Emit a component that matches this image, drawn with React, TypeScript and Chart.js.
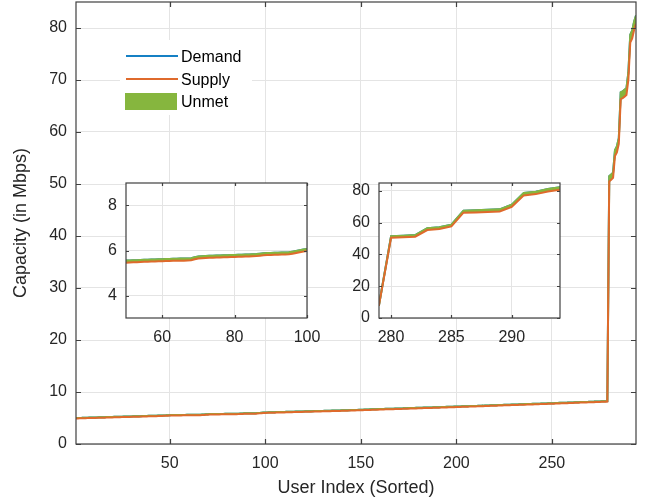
import { useEffect, useRef } from "react";
import { Chart, registerables } from "chart.js";

Chart.register(...registerables);

// ---- Data ----
const demand: number[] = [
  5.00, 5.01, 5.02, 5.03, 5.05, 5.06, 5.07, 5.08, 5.09, 5.10,
  5.11, 5.12, 5.13, 5.14, 5.15, 5.16, 5.18, 5.19, 5.20, 5.21,
  5.22, 5.23, 5.24, 5.25, 5.26, 5.27, 5.28, 5.29, 5.30, 5.31,
  5.32, 5.33, 5.34, 5.35, 5.36, 5.37, 5.38, 5.40, 5.41, 5.42,
  5.43, 5.44, 5.45, 5.46, 5.47, 5.48, 5.50, 5.51, 5.53, 5.55,
  5.56, 5.57, 5.57, 5.58, 5.59, 5.59, 5.60, 5.60, 5.61, 5.61,
  5.62, 5.62, 5.63, 5.63, 5.64, 5.64, 5.65, 5.66, 5.70, 5.73,
  5.75, 5.76, 5.77, 5.77, 5.78, 5.78, 5.79, 5.79, 5.80, 5.80,
  5.81, 5.81, 5.82, 5.82, 5.83, 5.84, 5.86, 5.88, 5.89, 5.89,
  5.90, 5.90, 5.91, 5.91, 5.92, 5.95, 5.98, 6.01, 6.04, 6.07,
  6.08, 6.09, 6.10, 6.11, 6.12, 6.13, 6.14, 6.15, 6.16, 6.17,
  6.18, 6.19, 6.20, 6.21, 6.22, 6.23, 6.24, 6.25, 6.26, 6.27,
  6.28, 6.29, 6.30, 6.31, 6.32, 6.33, 6.34, 6.35, 6.36, 6.37,
  6.38, 6.39, 6.40, 6.41, 6.42, 6.43, 6.44, 6.45, 6.46, 6.47,
  6.48, 6.49, 6.50, 6.51, 6.52, 6.53, 6.54, 6.56, 6.58, 6.60,
  6.61, 6.62, 6.63, 6.65, 6.66, 6.67, 6.68, 6.70, 6.71, 6.72,
  6.73, 6.74, 6.76, 6.77, 6.78, 6.79, 6.80, 6.82, 6.83, 6.84,
  6.85, 6.86, 6.88, 6.89, 6.90, 6.91, 6.92, 6.94, 6.95, 6.96,
  6.97, 6.98, 7.00, 7.01, 7.02, 7.03, 7.04, 7.06, 7.07, 7.08,
  7.09, 7.10, 7.12, 7.13, 7.14, 7.15, 7.16, 7.18, 7.19, 7.20,
  7.21, 7.23, 7.24, 7.25, 7.27, 7.28, 7.29, 7.31, 7.32, 7.33,
  7.34, 7.36, 7.37, 7.38, 7.40, 7.41, 7.42, 7.44, 7.45, 7.46,
  7.47, 7.49, 7.50, 7.51, 7.53, 7.54, 7.55, 7.57, 7.58, 7.59,
  7.60, 7.62, 7.63, 7.64, 7.66, 7.67, 7.68, 7.70, 7.71, 7.72,
  7.73, 7.75, 7.76, 7.77, 7.79, 7.80, 7.81, 7.83, 7.84, 7.85,
  7.86, 7.88, 7.89, 7.91, 7.92, 7.94, 7.95, 7.96, 7.98, 7.99,
  8.00, 8.02, 8.03, 8.05, 8.06, 8.07, 8.09, 8.10, 8.11, 8.13,
  8.14, 8.15, 8.17, 8.18, 8.19, 8.21, 8.22, 8.23, 8.25,
  51.5, 51.8, 52.2, 56.5, 57.2, 58.8, 67.6, 67.8, 68.1, 68.4,
  71.4, 78.7, 79.5, 81.2, 82.4,
];

const supply: number[] = [
  4.91, 4.92, 4.93, 4.94, 4.96, 4.97, 4.98, 4.99, 5.00, 5.01,
  5.02, 5.03, 5.04, 5.05, 5.06, 5.07, 5.09, 5.10, 5.11, 5.12,
  5.13, 5.14, 5.15, 5.16, 5.17, 5.18, 5.19, 5.20, 5.21, 5.22,
  5.23, 5.24, 5.25, 5.26, 5.27, 5.28, 5.29, 5.31, 5.32, 5.33,
  5.34, 5.35, 5.36, 5.37, 5.38, 5.39, 5.41, 5.42, 5.44, 5.46,
  5.47, 5.48, 5.48, 5.49, 5.50, 5.50, 5.51, 5.51, 5.52, 5.52,
  5.53, 5.53, 5.54, 5.54, 5.55, 5.55, 5.56, 5.57, 5.61, 5.64,
  5.66, 5.67, 5.68, 5.68, 5.69, 5.69, 5.70, 5.70, 5.71, 5.71,
  5.72, 5.72, 5.73, 5.73, 5.74, 5.75, 5.77, 5.79, 5.80, 5.80,
  5.81, 5.81, 5.82, 5.82, 5.83, 5.86, 5.89, 5.92, 5.95, 5.98,
  5.99, 6.00, 6.01, 6.02, 6.03, 6.04, 6.05, 6.06, 6.07, 6.08,
  6.09, 6.10, 6.11, 6.12, 6.13, 6.14, 6.15, 6.16, 6.17, 6.18,
  6.19, 6.20, 6.21, 6.22, 6.23, 6.24, 6.25, 6.26, 6.27, 6.28,
  6.29, 6.30, 6.31, 6.32, 6.33, 6.34, 6.35, 6.36, 6.37, 6.38,
  6.39, 6.40, 6.41, 6.42, 6.43, 6.44, 6.45, 6.47, 6.49, 6.51,
  6.51, 6.52, 6.53, 6.55, 6.56, 6.57, 6.58, 6.60, 6.61, 6.62,
  6.63, 6.64, 6.66, 6.67, 6.68, 6.69, 6.70, 6.72, 6.73, 6.74,
  6.75, 6.76, 6.78, 6.79, 6.80, 6.81, 6.82, 6.84, 6.85, 6.86,
  6.87, 6.88, 6.90, 6.91, 6.92, 6.93, 6.94, 6.96, 6.97, 6.98,
  6.99, 7.00, 7.02, 7.03, 7.04, 7.05, 7.06, 7.08, 7.09, 7.10,
  7.11, 7.13, 7.14, 7.15, 7.17, 7.18, 7.19, 7.21, 7.22, 7.23,
  7.24, 7.26, 7.27, 7.28, 7.30, 7.31, 7.32, 7.34, 7.35, 7.36,
  7.37, 7.39, 7.40, 7.41, 7.43, 7.44, 7.45, 7.47, 7.48, 7.49,
  7.50, 7.52, 7.53, 7.54, 7.56, 7.57, 7.58, 7.60, 7.61, 7.62,
  7.63, 7.65, 7.66, 7.67, 7.69, 7.70, 7.71, 7.73, 7.74, 7.75,
  7.76, 7.78, 7.79, 7.81, 7.82, 7.84, 7.85, 7.86, 7.88, 7.89,
  7.90, 7.92, 7.93, 7.95, 7.96, 7.97, 7.99, 8.00, 8.01, 8.03,
  8.04, 8.05, 8.07, 8.08, 8.09, 8.11, 8.12, 8.13, 8.15,
  50.5, 50.8, 51.2, 55.4, 56.1, 57.7, 66.3, 66.5, 66.8, 67.1,
  70.0, 77.2, 78.0, 79.6, 80.8,
];

// User index (sorted) 1..294 — the x category of each user
const userIndex: number[] = demand.map((_, i) => i + 1);

const seriesLabels = ["Demand", "Supply", "Unmet"];

const mainXTicks = [50, 100, 150, 200, 250];
const mainYTicks = [0, 10, 20, 30, 40, 50, 60, 70, 80];
const inset1XTicks = [60, 80, 100];
const inset1YTicks = [4, 6, 8];
const inset2XTicks = [280, 285, 290];
const inset2YTicks = [0, 20, 40, 60, 80];

const xTitle = "User Index (Sorted)";
const yTitle = "Capacity (in Mbps)";

// ---- Styles ----
const FONT = "'Liberation Sans', Arial, Helvetica, sans-serif";
const TEXT = "#262626";
const AXIS = "#404040";
const GRID = "#e4e4e4";
const BLUE = "#1580c4";
const ORANGE = "#df6a2c";
const GREEN = "#86b63e";

const toPoints = (arr: number[]) => arr.map((v, i) => ({ x: userIndex[i], y: v }));

const boxTicksPlugin = {
  id: "boxTicks",
  afterDraw(chart: any, _args: any, opts: any) {
    const { ctx, chartArea: a, scales } = chart;
    const x = scales.x;
    const y = scales.y;
    const L = opts.len ?? 5;
    ctx.save();
    ctx.strokeStyle = AXIS;
    ctx.lineWidth = 1.2;
    ctx.beginPath();
    (opts.xTicks as number[]).forEach((v) => {
      const px = Math.round(x.getPixelForValue(v)) + 0.5;
      ctx.moveTo(px, a.bottom);
      ctx.lineTo(px, a.bottom - L);
      ctx.moveTo(px, a.top);
      ctx.lineTo(px, a.top + L);
    });
    (opts.yTicks as number[]).forEach((v) => {
      const py = Math.round(y.getPixelForValue(v)) + 0.5;
      ctx.moveTo(a.left, py);
      ctx.lineTo(a.left + L, py);
      ctx.moveTo(a.right, py);
      ctx.lineTo(a.right - L, py);
    });
    ctx.stroke();
    ctx.strokeRect(a.left, a.top, a.right - a.left, a.bottom - a.top);
    ctx.restore();
  },
};

const whiteAreaPlugin = {
  id: "whiteArea",
  beforeDraw(chart: any) {
    const { ctx, chartArea: a } = chart;
    ctx.save();
    ctx.fillStyle = "#ffffff";
    ctx.fillRect(a.left, a.top, a.right - a.left, a.bottom - a.top);
    ctx.restore();
  },
};

const legendPlugin = {
  id: "matlabLegend",
  afterDraw(chart: any) {
    const { ctx, chartArea: a } = chart;
    const x0 = a.left + 44;
    const y0 = a.top + 38;
    ctx.save();
    ctx.fillStyle = "#ffffff";
    ctx.fillRect(x0, y0, 132, 75);
    ctx.lineWidth = 2;
    ctx.strokeStyle = BLUE;
    ctx.beginPath();
    ctx.moveTo(x0 + 6, y0 + 16);
    ctx.lineTo(x0 + 58, y0 + 16);
    ctx.stroke();
    ctx.strokeStyle = ORANGE;
    ctx.beginPath();
    ctx.moveTo(x0 + 6, y0 + 39);
    ctx.lineTo(x0 + 58, y0 + 39);
    ctx.stroke();
    ctx.fillStyle = GREEN;
    ctx.fillRect(x0 + 5, y0 + 53, 52, 17);
    ctx.fillStyle = "#000000";
    ctx.font = `16px ${FONT}`;
    ctx.textBaseline = "alphabetic";
    ctx.textAlign = "left";
    ctx.fillText(seriesLabels[0], x0 + 61, y0 + 22);
    ctx.fillText(seriesLabels[1], x0 + 61, y0 + 45);
    ctx.fillText(seriesLabels[2], x0 + 61, y0 + 67);
    ctx.restore();
  },
};

type Cfg = {
  xMin: number; xMax: number; yMin: number; yMax: number;
  xTicks: number[]; yTicks: number[];
  pad: { left: number; right: number; top: number; bottom: number };
  yWidth: number; xHeight: number; tickLen: number;
  titles: boolean; legend: boolean; white: boolean;
};

function makeConfig(c: Cfg): any {
  const tickFont = { family: FONT, size: 16 };
  const plugins: any[] = [boxTicksPlugin];
  if (c.white) plugins.push(whiteAreaPlugin);
  if (c.legend) plugins.push(legendPlugin);
  return {
    type: "line",
    data: {
      datasets: [
        {
          label: seriesLabels[0],
          data: toPoints(demand),
          borderColor: BLUE,
          borderWidth: 2,
          pointRadius: 0,
          tension: 0,
          fill: false,
          order: 3,
        },
        {
          label: seriesLabels[1],
          data: toPoints(supply),
          borderColor: ORANGE,
          borderWidth: 2,
          pointRadius: 0,
          tension: 0,
          fill: false,
          order: 1,
        },
        {
          label: seriesLabels[2],
          data: toPoints(demand),
          borderColor: GREEN,
          backgroundColor: GREEN,
          borderWidth: 2,
          pointRadius: 0,
          tension: 0,
          fill: 1,
          order: 2,
        },
      ],
    },
    options: {
      animation: false,
      responsive: false,
      maintainAspectRatio: false,
      events: [],
      layout: { padding: c.pad },
      plugins: {
        legend: { display: false },
        tooltip: { enabled: false },
        title: { display: false },
        boxTicks: { xTicks: c.xTicks, yTicks: c.yTicks, len: c.tickLen },
      },
      scales: {
        x: {
          type: "linear",
          min: c.xMin,
          max: c.xMax,
          afterBuildTicks: (s: any) => {
            s.ticks = c.xTicks.map((v) => ({ value: v }));
          },
          afterFit: (s: any) => {
            s.height = c.xHeight;
            s.paddingLeft = 0;
            s.paddingRight = 0;
            s.paddingTop = 0;
            s.paddingBottom = 0;
          },
          grid: { color: GRID, lineWidth: 1, drawTicks: false },
          border: { display: false },
          ticks: { font: tickFont, color: TEXT, padding: 10, maxRotation: 0, autoSkip: false },
          title: {
            display: c.titles,
            text: xTitle,
            color: TEXT,
            font: { family: FONT, size: 18 },
            padding: { top: 0, bottom: 5 },
          },
        },
        y: {
          type: "linear",
          min: c.yMin,
          max: c.yMax,
          afterBuildTicks: (s: any) => {
            s.ticks = c.yTicks.map((v) => ({ value: v }));
          },
          afterFit: (s: any) => {
            s.width = c.yWidth;
            s.paddingLeft = 0;
            s.paddingRight = 0;
            s.paddingTop = 0;
            s.paddingBottom = 0;
          },
          grid: { color: GRID, lineWidth: 1, drawTicks: false },
          border: { display: false },
          ticks: { font: tickFont, color: TEXT, padding: 9, autoSkip: false },
          title: {
            display: c.titles,
            text: yTitle,
            color: TEXT,
            font: { family: FONT, size: 18 },
            padding: { top: 10, bottom: 0 },
          },
        },
      },
    },
    plugins,
  };
}

function ChartCanvas(props: { cfg: Cfg; left: number; top: number; width: number; height: number }) {
  const ref = useRef<HTMLCanvasElement | null>(null);
  useEffect(() => {
    if (!ref.current) return;
    const chart = new Chart(ref.current, makeConfig(props.cfg));
    return () => chart.destroy();
  }, []);
  return (
    <canvas
      ref={ref}
      width={props.width}
      height={props.height}
      style={{ position: "absolute", left: props.left, top: props.top, width: props.width, height: props.height }}
    />
  );
}

export default function App() {
  const mainCfg: Cfg = {
    xMin: 1, xMax: 294, yMin: 0, yMax: 85,
    xTicks: mainXTicks, yTicks: mainYTicks,
    pad: { left: 0, right: 18, top: 2, bottom: 0 },
    yWidth: 76, xHeight: 60, tickLen: 5,
    titles: true, legend: true, white: false,
  };
  const inset1Cfg: Cfg = {
    xMin: 50, xMax: 100, yMin: 3, yMax: 9,
    xTicks: inset1XTicks, yTicks: inset1YTicks,
    pad: { left: 0, right: 19, top: 8, bottom: 0 },
    yWidth: 40, xHeight: 32, tickLen: 3,
    titles: false, legend: false, white: true,
  };
  const inset2Cfg: Cfg = {
    xMin: 279, xMax: 294, yMin: 0, yMax: 85,
    xTicks: inset2XTicks, yTicks: inset2YTicks,
    pad: { left: 0, right: 20, top: 8, bottom: 0 },
    yWidth: 44, xHeight: 32, tickLen: 3,
    titles: false, legend: false, white: true,
  };
  return (
    <div style={{ position: "absolute", left: 0, top: 0, width: 654, height: 504, background: "#ffffff" }}>
      <ChartCanvas cfg={mainCfg} left={0} top={0} width={654} height={504} />
      <ChartCanvas cfg={inset1Cfg} left={86} top={175} width={240} height={175} />
      <ChartCanvas cfg={inset2Cfg} left={335} top={175} width={245} height={175} />
    </div>
  );
}
